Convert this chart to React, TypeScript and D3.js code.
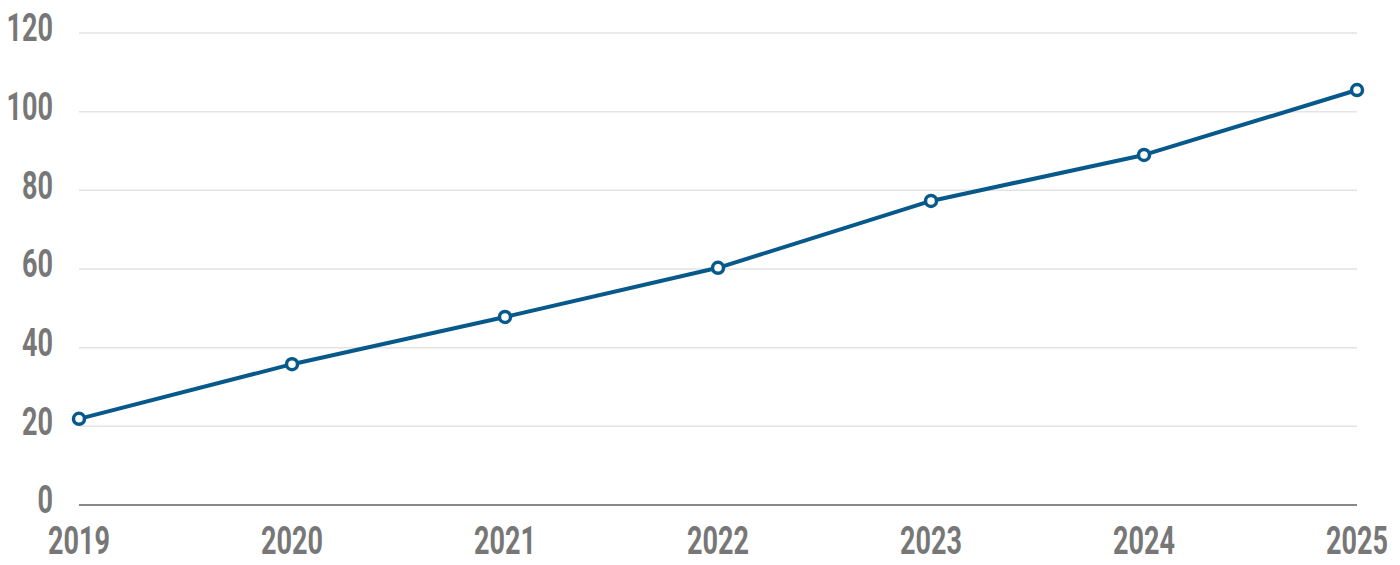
import React from "react";
import * as d3 from "d3";

const years = ["2019", "2020", "2021", "2022", "2023", "2024", "2025"];
const values = [21.9, 35.8, 47.8, 60.3, 77.3, 89.0, 105.5];
const yTicks = [0, 20, 40, 60, 80, 100, 120];

const W = 1400;
const H = 565;
const FONT = "Roboto, 'DejaVu Sans', sans-serif";
const SX = 0.75;
const SY = 1.1;

export default function App() {
  const x = d3.scalePoint<string>().domain(years).range([79, 1357]);
  const y = d3.scaleLinear().domain([0, 120]).range([505, 33]);
  const line = d3
    .line<number>()
    .x((_, i) => x(years[i]) as number)
    .y((d) => y(d));

  return (
    <svg
      width={W}
      height={H}
      style={{ position: "absolute", left: 0, top: 0, background: "#fff" }}
    >
      {yTicks.map((t) =>
        t === 0 ? null : (
          <line
            key={"g" + t}
            x1={79}
            x2={1357}
            y1={y(t)}
            y2={y(t)}
            stroke="#e3e3e3"
            strokeWidth={1.5}
          />
        )
      )}
      <line x1={79} x2={1357} y1={y(0)} y2={y(0)} stroke="#888" strokeWidth={2} />
      {yTicks.map((t) => {
        const ty = y(t) - 5;
        return (
          <text
            key={"yl" + t}
            x={53}
            y={ty}
            textAnchor="end"
            dominantBaseline="central"
            fill="#777"
            fontFamily={FONT}
            fontWeight="bold"
            fontSize={36}
            style={{ transformOrigin: `53px ${ty}px`, transform: `scale(${SX},${SY})` }}
          >
            {t}
          </text>
        );
      })}
      {years.map((yr) => (
        <text
          key={"xl" + yr}
          x={x(yr)}
          y={541}
          textAnchor="middle"
          dominantBaseline="central"
          fill="#777"
          fontFamily={FONT}
          fontWeight="bold"
          fontSize={36}
          style={{ transformOrigin: `${x(yr)}px 541px`, transform: `scale(${SX},${SY})` }}
        >
          {yr}
        </text>
      ))}
      <path d={line(values) || ""} fill="none" stroke="#07598b" strokeWidth={4} strokeLinejoin="round" />
      {values.map((v, i) => (
        <circle
          key={"p" + i}
          cx={x(years[i])}
          cy={y(v)}
          r={5.5}
          fill="#fff"
          stroke="#07598b"
          strokeWidth={3.5}
        />
      ))}
    </svg>
  );
}
